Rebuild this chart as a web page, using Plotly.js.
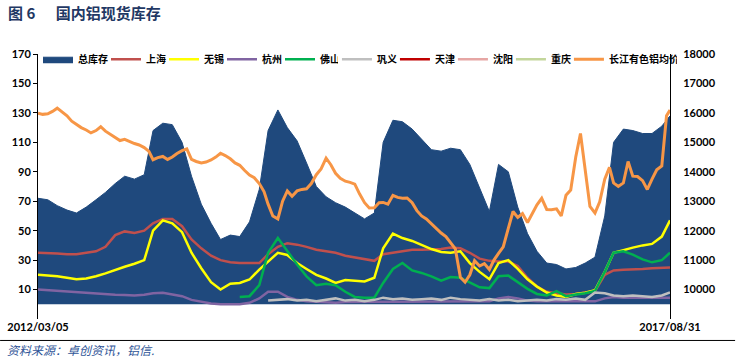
<!DOCTYPE html>
<html>
<head>
<meta charset="utf-8">
<script src="https://cdn.plot.ly/plotly-3.0.1.min.js"></script>
<style>html,body{margin:0;padding:0;background:#fff;}#chart{width:738px;height:358px;}</style>
</head>
<body>
<div id="chart"></div>
<script>
// Half-month sample dates (5th and 20th), last point = end of series
const halfDates = [
'2012-03-05','2012-03-20','2012-04-05','2012-04-20','2012-05-05','2012-05-20','2012-06-05','2012-06-20','2012-07-05','2012-07-20',
'2012-08-05','2012-08-20','2012-09-05','2012-09-20','2012-10-05','2012-10-20','2012-11-05','2012-11-20','2012-12-05','2012-12-20',
'2013-01-05','2013-01-20','2013-02-05','2013-02-20','2013-03-05','2013-03-20','2013-04-05','2013-04-20','2013-05-05','2013-05-20',
'2013-06-05','2013-06-20','2013-07-05','2013-07-20','2013-08-05','2013-08-20','2013-09-05','2013-09-20','2013-10-05','2013-10-20',
'2013-11-05','2013-11-20','2013-12-05','2013-12-20',
'2014-01-05','2014-01-20','2014-02-05','2014-02-20','2014-03-05','2014-03-20','2014-04-05','2014-04-20','2014-05-05','2014-05-20',
'2014-06-05','2014-06-20','2014-07-05','2014-07-20','2014-08-05','2014-08-20','2014-09-05','2014-09-20','2014-10-05','2014-10-20',
'2014-11-05','2014-11-20','2014-12-05','2014-12-20',
'2015-01-05','2015-01-20','2015-02-05','2015-02-20','2015-03-05','2015-03-20','2015-04-05','2015-04-20','2015-05-05','2015-05-20',
'2015-06-05','2015-06-20','2015-07-05','2015-07-20','2015-08-05','2015-08-20','2015-09-05','2015-09-20','2015-10-05','2015-10-20',
'2015-11-05','2015-11-20','2015-12-05','2015-12-20',
'2016-01-05','2016-01-20','2016-02-05','2016-02-20','2016-03-05','2016-03-20','2016-04-05','2016-04-20','2016-05-05','2016-05-20',
'2016-06-05','2016-06-20','2016-07-05','2016-07-20','2016-08-05','2016-08-20','2016-09-05','2016-09-20','2016-10-05','2016-10-20',
'2016-11-05','2016-11-20','2016-12-05','2016-12-20',
'2017-01-05','2017-01-20','2017-02-05','2017-02-20','2017-03-05','2017-03-20','2017-04-05','2017-04-20','2017-05-05','2017-05-20',
'2017-06-05','2017-06-20','2017-07-05','2017-07-20','2017-08-05','2017-08-20','2017-08-31'
];
// Monthly sample dates (every other half-month date)
const monthDates = halfDates.filter((d, i) => i % 2 === 0);

const xTickVals = ['2012-03-05', '2017-08-31'];
const xTickText = ['2012/03/05', '2017/08/31'];
const leftTicks = [10, 30, 50, 70, 90, 110, 130, 150, 170];
const rightTicks = [10000, 11000, 12000, 13000, 14000, 15000, 16000, 17000, 18000];

// 总库存 (monthly, 万吨)
const totalStock = [
72,71,67,64,62,66,71,76,82,87,
85,88,118,123,122,110,87,68,55,44,
47,46,56,78,118,132,120,111,96,80,
73,69,66,62,58,62,110,125,124,119,
112,105,104,106,105,95,79,63,95,90,
66,48,36,28,27,24,25,28,32,60,
110,119,118,116,116,121,128
];
// 上海
const shanghai = [
35,35,34.5,34,34,35,36,39,47,49.5,
48.5,50,55,58,58,53,44,38,33,30,
28.5,28,28,28,34,39,41.5,40.5,39,37,
36,35,33,32,31,29.5,34,35,36,37,
37,37,37.5,38.5,38,35,31,29.5,29,29,
26,18,12,8.5,7.5,6.6,7,7.8,9,20,
23,23.5,23.6,24,24.5,24.7,25
];
// 无锡
const wuxi = [
20,19.5,19,18,17,17.5,19,21,23.5,25.5,
27.5,30,50,57,55,49,35,24.5,15,10,
14,14.5,16.8,23.6,29,35,33.5,28,24,20,
17.5,14.5,16.5,16,15.5,18,38,48,45,43,
40.5,37.5,35.5,35,36,28,22,17,28,30,
24,17,12,8,6,5,7,7.8,9.5,22,
35,37,38.5,40,41,46,57
];
// 杭州
const hangzhou = [
10,9.5,9,8.5,8,7.5,7,6.8,6.5,6.3,
6,6.5,7.5,7.8,6.5,5.5,3,1.5,0.5,0,
0,0,1,4,8.5,8.5,5,3,2,1.5,
1.2,1,1.5,1.5,1.5,1.5,2,1.5,1.5,1.5,
1.5,1.5,1.5,1.5,1.5,1.5,2,2,4,5,
4,2.5,2,2,2,2,2,2,2,4,
5,4.5,4.5,4.5,4.5,4.5,4.5
];
// 佛山
const foshan = [
null,null,null,null,null,null,null,null,null,null,
null,null,null,null,null,null,null,null,null,null,
null,5,5.5,13,35,45,36,27,19,13,
14,13,8.5,5,4.4,4.5,14.5,24,28,23,
21.3,19,16,18.5,18,15,11.5,11,19,19.5,
15,10.5,7,6,9,5.5,6.6,7.5,9,22,
35,36,33.7,30.5,28.5,30,35
];
// 巩义
const gongyi = [
null,null,null,null,null,null,null,null,null,null,
null,null,null,null,null,null,null,null,null,null,
null,null,null,null,2.5,3,3.5,2.5,3,2,
3,4,2.5,3,2,3,4.5,3.5,4,3,
3.5,4,3,4.5,3.5,3,2.5,3.5,2.5,3,
2,2.5,3,2.5,3.5,3,4,3,8,7.5,
6,5.5,6,5.5,5,6,8
];
// 天津 / 沈阳 / 重庆 (not visible in the picture: tiny values hidden under the area)
const minorDates = ['2012-03-05', '2017-08-31'];
const tianjin = [1.5, 1.5];
const shenyang = [1.5, 1.5];
const chongqing = [1.5, 1.5];
// 长江有色铝均价 (half-monthly, 元/吨)
const aluPrice = [
15990,15950,15970,16050,16160,16020,15900,15720,15600,15500,
15420,15320,15400,15530,15380,15280,15150,15060,15100,15020,
14960,14910,14820,14690,14410,14480,14520,14420,14500,14620,
14720,14780,14420,14350,14300,14330,14400,14500,14630,14550,
14440,14300,14220,14050,13890,13800,13600,13330,12900,12500,
12400,13000,13350,13170,13350,13400,13420,13600,13900,14100,
14460,14240,13950,13780,13680,13640,13580,13250,12950,12770,
12780,12950,12960,12900,13200,13130,13100,13110,12950,12680,
12500,12400,12230,12080,11920,11800,11590,11380,10420,10250,
10500,10980,10800,10880,10680,11010,11230,11450,12080,12650,
12450,12580,12280,12560,12880,13100,12720,12710,12740,12500,
13200,13380,14500,15300,14000,12820,12600,12980,13750,14150,
13620,13500,13620,14350,13850,13840,13700,13400,13750,14070,
14200,15900,16100
];

const CJK = '"Noto Sans CJK SC", sans-serif';
function ln(name, x, y, color, width, rank, legend, lw) {
  return {type: 'scatter', mode: 'lines', name: name, x: x, y: y,
    line: {color: color, width: width}, legendrank: rank, legend: legend,
    legendwidth: lw, connectgaps: false, hoverinfo: 'skip'};
}

const traces = [
  ln('天津', minorDates, tianjin, '#C00000', 2.5, 7, 'legend2', 13),
  ln('沈阳', minorDates, shenyang, '#E6A6A4', 2.5, 8, 'legend2', 13),
  ln('重庆', minorDates, chongqing, '#C3D69B', 2.5, 9, 'legend2', 13),
  {type: 'scatter', mode: 'lines', name: '总库存', x: monthDates, y: totalStock,
   fill: 'tozeroy', fillcolor: '#1F497D', line: {color: '#1F497D', width: 1},
   legendrank: 1, legend: 'legend', legendwidth: 23, hoverinfo: 'skip'},
  ln('上海', monthDates, shanghai, '#C0504D', 2.5, 2, 'legend', 13),
  ln('无锡', monthDates, wuxi, '#FFFF00', 2.5, 3, 'legend', 13),
  ln('杭州', monthDates, hangzhou, '#8064A2', 2.5, 4, 'legend', 13),
  ln('佛山', monthDates, foshan, '#00B050', 2.5, 5, 'legend', 13),
  ln('巩义', monthDates, gongyi, '#BFBFBF', 2.5, 6, 'legend2', 13),
  Object.assign(ln('长江有色铝均价', halfDates, aluPrice, '#F79646', 3, 10, 'legend2', 63), {yaxis: 'y2'})
];

const legendBase = {orientation: 'h', xanchor: 'left', yanchor: 'top', y: 1.035,
  bgcolor: 'rgba(0,0,0,0)', font: {family: CJK, size: 10, color: '#000', weight: 700},
  itemwidth: 30, traceorder: 'normal'};

const tickFont = {family: 'Lato, sans-serif', size: 11, color: '#000', weight: 700};

const layout = {
  width: 738, height: 358,
  margin: {l: 38, r: 68, t: 54, b: 39, pad: 0},
  paper_bgcolor: '#ffffff', plot_bgcolor: '#ffffff',
  font: {family: 'Lato, ' + CJK, size: 11, color: '#000'},
  title: {text: '图 6\u00a0\u00a0\u00a0\u00a0\u00a0\u00a0国内铝现货库存', xref: 'container', x: 8 / 738, xanchor: 'left',
          yref: 'container', y: 1 - 14 / 358, yanchor: 'middle',
          font: {family: CJK, size: 15, color: '#1F3864', weight: 700}},
  showlegend: true,
  legend: Object.assign({}, legendBase, {x: 0.0}),
  legend2: Object.assign({}, legendBase, {x: 0.473}),
  xaxis: {type: 'date', range: ['2012-03-05', '2017-08-31'], tickvals: xTickVals, ticktext: xTickText,
          showline: false, showgrid: false, zeroline: false, ticks: '', tickfont: tickFont},
  yaxis: {range: [-10, 170], tickvals: leftTicks, showline: true, linecolor: '#000', linewidth: 1,
          ticks: 'outside', ticklen: 4, tickcolor: '#000', showgrid: false, zeroline: false,
          tickfont: tickFont},
  yaxis2: {overlaying: 'y', side: 'right', range: [9000, 18000], tickvals: rightTicks, tickformat: 'd',
           showline: true, linecolor: '#000', linewidth: 1, ticks: 'outside', ticklen: 10,
           tickcolor: 'rgba(0,0,0,0)', showgrid: false, zeroline: false, tickfont: tickFont},
  annotations: [{text: '资料来源：卓创资讯，铝信.', xref: 'paper', yref: 'paper', x: -0.052, y: -0.115,
                 xanchor: 'left', yanchor: 'middle', showarrow: false,
                 font: {family: CJK, size: 12, color: '#2F5597', style: 'italic'}}],
  shapes: [{type: 'line', xref: 'paper', yref: 'paper', x0: -0.06, x1: 1.103, y0: -0.081, y1: -0.081,
            line: {color: '#000', width: 1}}]
};

Plotly.newPlot('chart', traces, layout, {displayModeBar: false, staticPlot: true});
</script>
</body>
</html>
